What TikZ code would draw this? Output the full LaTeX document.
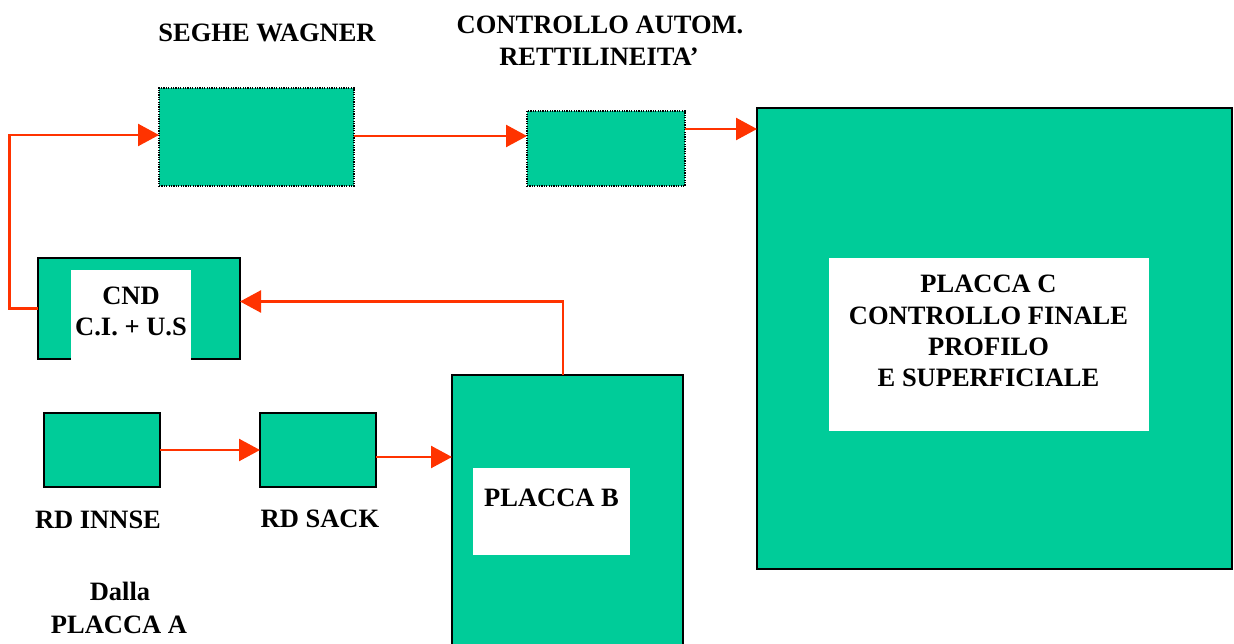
\documentclass[tikz,border=0pt]{standalone}
\usepackage{fontspec}
\setmainfont{Liberation Serif}
\usetikzlibrary{arrows.meta,calc}
\definecolor{boxgreen}{HTML}{00CC99}
\definecolor{arrred}{HTML}{FF3300}
\begin{document}
\begin{tikzpicture}[x=1pt,y=-1pt,
  box/.style={draw=black, line width=1.8pt, fill=boxgreen, inner sep=0pt, outer sep=0pt, anchor=north west},
  dotbox/.style={box, line width=1.2pt, dash pattern=on 1.2pt off 1.2pt},
  hole/.style={fill=white, draw=none, inner sep=0pt, outer sep=0pt, anchor=north west},
  lbl/.style={font=\bfseries\fontsize{26.5}{31}\selectfont, inner sep=0pt, anchor=base},
  arr/.style={draw=arrred, line width=2.4pt, -{Triangle[length=21pt,width=22pt]}}]
\useasboundingbox (0,0) rectangle (1234,644);
\clip (0,0) rectangle (1234,644);
% boxes
\node[dotbox, minimum width=195pt, minimum height=98pt] (seghe) at (159,88) {};
\node[dotbox, minimum width=158pt, minimum height=75pt] (ctrl) at (527,111) {};
\node[box, minimum width=475pt, minimum height=461pt] (pC) at (757,108) {};
\node[hole, minimum width=320pt, minimum height=173pt] (pCw) at (829,258) {};
\node[box, minimum width=202pt, minimum height=101pt] (cnd) at (38,258) {};
\node[hole, minimum width=120pt, minimum height=91pt] (cndw) at (71,270) {};
\node[box, minimum width=116pt, minimum height=74pt] (innse) at (44,413) {};
\node[box, minimum width=116pt, minimum height=74pt] (sack) at (260,413) {};
\node[box, minimum width=231pt, minimum height=290pt] (pB) at (452,375) {};
\node[hole, minimum width=157pt, minimum height=87pt] (pBw) at (473,468) {};
% labels
\node[lbl] (tSeghe) at (267,42) {SEGHE WAGNER};
\node[lbl] (tCtrl1) at (600,34) {CONTROLLO AUTOM.};
\node[lbl] (tCtrl2) at (599,66) {RETTILINEITA’};
\node[lbl] (tC1) at (988.5,293) {PLACCA C};
\node[lbl] (tC2) at (988.5,324) {CONTROLLO FINALE};
\node[lbl] (tC3) at (988.5,355) {PROFILO};
\node[lbl] (tC4) at (988.5,386) {E SUPERFICIALE};
\node[lbl] (tCnd1) at (131,305) {CND};
\node[lbl] (tCnd2) at (131,335) {C.I. + U.S};
\node[lbl] (tB) at (551.5,506) {PLACCA B};
\node[lbl] (tInnse) at (98,528) {RD INNSE};
\node[lbl] (tSack) at (320,527) {RD SACK};
\node[lbl] (tDalla) at (120,600) {Dalla};
\node[lbl] (tPA) at (119,633) {PLACCA A};
% connector end points
\coordinate (segIn) at ($(seghe.west)+(0,-2)$);
\coordinate (segOut) at ($(seghe.east)+(0,-1)$);
\coordinate (ctrlOut) at ($(ctrl.north east)+(0,18)$);
\coordinate (bOut) at ($(pB.north west)+(111,0)$);
\coordinate (cndIn) at ($(cnd.east)+(0,-7)$);
\coordinate (sackOut) at ($(sack.east)+(0,7)$);
% connectors
\draw[arr] (cnd.west) -- ++(-28.5,0) |- (segIn);
\draw[arr] (segOut) -- (segOut -| ctrl.west);
\draw[arr] (ctrlOut) -- (ctrlOut -| pC.west);
\draw[arr] (bOut) |- (cndIn);
\draw[arr] (innse.east) -- (sack.west);
\draw[arr] (sackOut) -- (sackOut -| pB.west);
\end{tikzpicture}
\end{document}
